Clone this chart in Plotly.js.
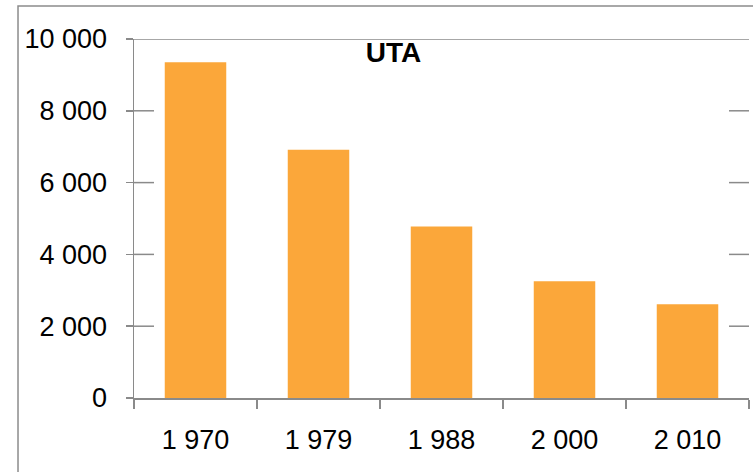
<!DOCTYPE html>
<html>
<head>
<meta charset="utf-8">
<script src="https://cdn.plot.ly/plotly-3.0.1.min.js"></script>
<style>html,body{margin:0;padding:0;background:#fff;}#chart{width:753px;height:472px;}</style>
</head>
<body>
<div id="chart"></div>
<script>
const years = ["1 970", "1 979", "1 988", "2 000", "2 010"];
const uta = [9350, 6915, 4780, 3250, 2610];
const titleText = "UTA";
const yTicks = [0, 2000, 4000, 6000, 8000, 10000];

const gray = '#8a8a8a';
const font = {family: 'Liberation Sans, Arial, sans-serif', size: 27, color: '#000'};

const trace = {
  type: 'bar',
  x: years,
  y: uta,
  marker: {color: '#FBA73A', line: {width: 0}},
  hoverinfo: 'skip'
};

// gridline stubs (only the ends of each gridline are visible in the original)
const stub = 20 / 615;
const gridShapes = [];
yTicks.forEach(v => {
  if (v === 0) return;
  if (v === yTicks[yTicks.length - 1]) {
    gridShapes.push({type: 'line', xref: 'paper', yref: 'y', x0: 0, x1: 1, y0: v, y1: v,
      line: {color: gray, width: 1.5}, layer: 'below'});
  } else {
    gridShapes.push({type: 'line', xref: 'paper', yref: 'y', x0: 0, x1: stub, y0: v, y1: v,
      line: {color: gray, width: 1.5}, layer: 'below'});
    gridShapes.push({type: 'line', xref: 'paper', yref: 'y', x0: 1 - stub, x1: 1, y0: v, y1: v,
      line: {color: gray, width: 1.5}, layer: 'below'});
  }
});

const layout = {
  width: 753, height: 472,
  margin: {l: 134, r: 4, t: 39, b: 74},
  paper_bgcolor: '#fff', plot_bgcolor: '#fff',
  separators: ', ',
  showlegend: false,
  bargap: 0.5,
  title: {
    text: '<b>' + titleText + '</b>',
    font: {family: 'Liberation Sans, Arial, sans-serif', size: 28, color: '#000'},
    xref: 'container', yref: 'container',
    x: 0.5226, y: 0.89, xanchor: 'center', yanchor: 'middle'
  },
  xaxis: {
    type: 'category',
    range: [-0.5, 4.5],
    tickson: 'boundaries',
    ticks: 'outside', ticklen: 9, tickwidth: 1.5, tickcolor: gray,
    showline: true, linecolor: gray, linewidth: 1.5,
    showgrid: false, zeroline: false,
    tickfont: font,
    ticklabelstandoff: 17
  },
  yaxis: {
    range: [0, 10000],
    tickvals: yTicks,
    tickformat: ',d',
    ticks: 'outside', ticklen: 7, tickwidth: 1.5, tickcolor: gray,
    showline: true, linecolor: gray, linewidth: 1.5,
    showgrid: false,
    zeroline: false,
    tickfont: font,
    ticklabelstandoff: 13
  },
  shapes: gridShapes.concat([
    {type: 'rect', xref: 'paper', yref: 'paper', x0: -0.1886, x1: 1.02, y0: -0.25, y1: 1.0919,
     fillcolor: 'rgba(0,0,0,0)', line: {color: '#8c8c8c', width: 1.5}, layer: 'above'}
  ])
};

Plotly.newPlot('chart', [trace], layout, {displayModeBar: false, staticPlot: true});
</script>
</body>
</html>
